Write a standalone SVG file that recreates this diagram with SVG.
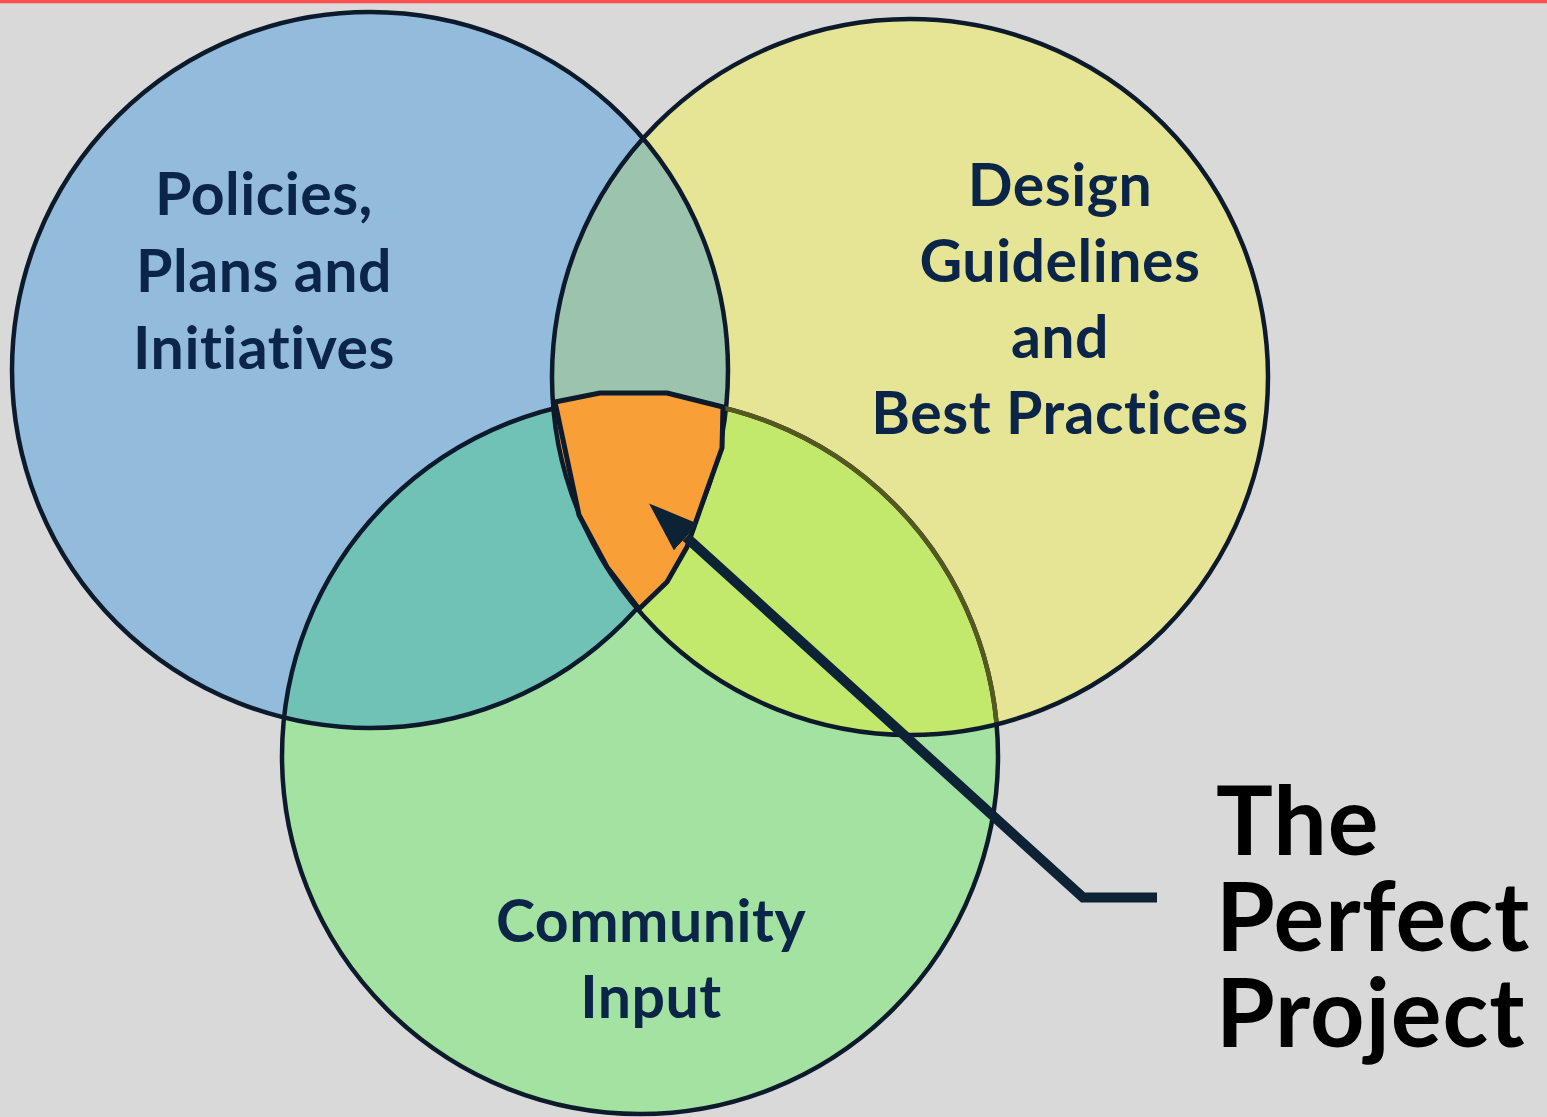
<svg xmlns="http://www.w3.org/2000/svg" width="1547" height="1117" viewBox="0 0 1547 1117">
  <style>
    .ring { fill: none; stroke: #0c1a2b; stroke-width: 4.5; }
    .label { font-family: Lato, "Open Sans", "Liberation Sans", sans-serif; font-weight: 700; font-size: 59px; letter-spacing: 0.5px; fill: #0b2548; text-anchor: middle; font-variant-ligatures: none; }
    .title { font-family: Lato, "Open Sans", "Liberation Sans", sans-serif; font-weight: 700; font-size: 95px; letter-spacing: 1px; fill: #000000; font-variant-ligatures: none; }
    .pointer { fill: none; stroke: #0e2236; stroke-width: 10; stroke-linejoin: miter; }
  </style>
  <defs>
    <circle id="shapeBlue" cx="370" cy="370" r="358"/>
    <circle id="shapeYellow" cx="910" cy="377" r="358"/>
    <circle id="shapeGreen" cx="640" cy="756" r="358"/>
    <clipPath id="clipBlue"><use href="#shapeBlue"/></clipPath>
    <clipPath id="clipYellow"><use href="#shapeYellow"/></clipPath>
    <marker id="arrowHead" markerUnits="userSpaceOnUse" viewBox="0 0 50 36" markerWidth="50" markerHeight="36" refX="0" refY="18" orient="auto">
      <path d="M0,0 L50,18 L0,36 Z" fill="#0e2236"/>
    </marker>
  </defs>

  <!-- page -->
  <rect x="0" y="0" width="1547" height="1117" fill="#d9d9d9"/>
  <rect x="0" y="0" width="1547" height="3.3" fill="#fe5050"/>

  <!-- circle fills and overlaps -->
  <g id="fills">
    <use href="#shapeBlue" fill="#93bbdb"/>
    <use href="#shapeYellow" fill="#e5e595"/>
    <use href="#shapeGreen" fill="#a4e2a2"/>
    <use href="#shapeYellow" fill="#9cc4ad" clip-path="url(#clipBlue)"/>
    <use href="#shapeGreen" fill="#6fc2b5" clip-path="url(#clipBlue)"/>
    <use href="#shapeGreen" fill="#c2e96c" clip-path="url(#clipYellow)"/>
    <g clip-path="url(#clipBlue)">
      <use href="#shapeGreen" fill="#f89f38" clip-path="url(#clipYellow)"/>
    </g>
  </g>

  <g id="node-policies">
    <use href="#shapeBlue" class="ring"/>
    <text class="label" x="264" y="215">Policies,</text>
    <text class="label" x="264" y="292">Plans and</text>
    <text class="label" x="264" y="369">Initiatives</text>
  </g>

  <g id="node-community">
    <use href="#shapeGreen" class="ring"/>
    <use href="#shapeGreen" class="ring" style="stroke:#56591f" clip-path="url(#clipYellow)"/>
    <text class="label" x="651" y="942">Community</text>
    <text class="label" x="651" y="1018">Input</text>
  </g>

  <g id="node-design">
    <use href="#shapeYellow" class="ring"/>
    <text class="label" x="1060" y="206">Design</text>
    <text class="label" x="1060" y="282">Guidelines</text>
    <text class="label" x="1060" y="358">and</text>
    <text class="label" x="1060" y="434">Best Practices</text>
  </g>

  <!-- shared centre of all three -->
  <g id="node-centre">
    <polygon points="555,402 600,393 667,393 723,407 722,448 707,490 687,547 667,582 639,609 607,567 579,515" fill="#f89f38" stroke="#0c1a2b" stroke-width="5" stroke-linejoin="round"/>
  </g>

  <g id="connectors">
    <path class="pointer" d="M1157,897.5 L1083,897.5 L686,537" marker-end="url(#arrowHead)"/>
  </g>

  <g id="node-perfect">
    <text class="title" x="1216" y="855">The<tspan x="1216" y="951">Perfect</tspan><tspan x="1216" y="1047">Project</tspan></text>
  </g>
</svg>
